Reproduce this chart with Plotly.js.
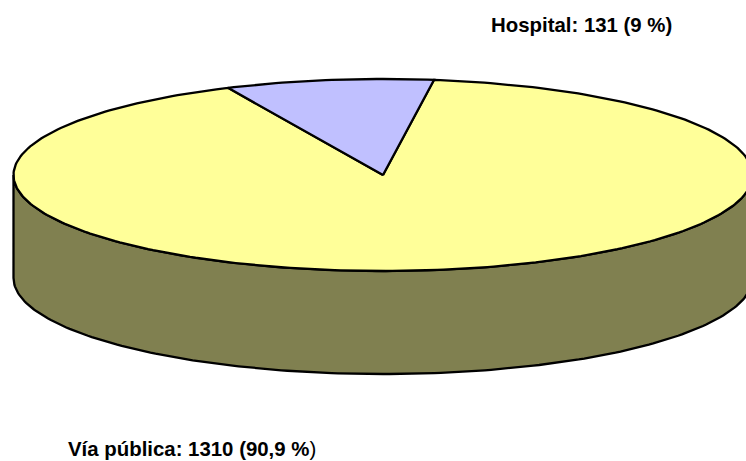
<!DOCTYPE html>
<html>
<head>
<meta charset="utf-8">
<script src="https://cdn.plot.ly/plotly-3.0.1.min.js"></script>
<style>html,body{margin:0;padding:0;background:#fff}#c{width:746px;height:461px}</style>
</head>
<body>
<div id="c"></div>
<script>
const categories = ['Hospital', 'Vía pública'];
const values = [131, 1310];
const sliceColors = ['#C0C0FF', '#FFFF99'];
const wallColor = '#808050';
const labelTexts = ['<b>Hospital: 131 (9 %)</b>', '<b>Vía pública: 1310 (90,9 %</b>)'];

const W = 746, H = 461, CX = 383, CY = 175, RX = 369.5, RY = 96, DEPTH = 103;
const tilt = RY / RX, drop = DEPTH / RX;
const startDeg = -24.8;
const total = values.reduce((a, b) => a + b, 0);

function rim(a0, a1, dz) {
  const xs = [], ys = [], n = Math.max(2, Math.ceil(Math.abs(a1 - a0)));
  for (let i = 0; i <= n; i++) {
    const a = (a0 + (a1 - a0) * i / n) * Math.PI / 180;
    xs.push(Math.sin(a));
    ys.push(Math.cos(a) * tilt - dz);
  }
  return [xs, ys];
}

const traces = [];
const line = {color: '#000', width: 2.3};
const [tx, ty] = rim(90, 270, 0);
const [bx, by] = rim(270, 90, drop);
traces.push({x: tx.concat(bx, [tx[0]]), y: ty.concat(by, [ty[0]]), mode: 'lines', fill: 'toself',
  fillcolor: wallColor, line, hoverinfo: 'skip', showlegend: false});
const angles = values.map(v => v / total * 360);
const starts = [startDeg, startDeg + angles[0]];
[1, 0].forEach(i => {
  const [x, y] = rim(starts[i], starts[i] + angles[i], 0);
  traces.push({x: [0].concat(x, [0]), y: [0].concat(y, [0]), mode: 'lines', fill: 'toself',
    fillcolor: sliceColors[i], line,
    name: categories[i], hoverinfo: 'name', showlegend: false});
});

const font = {family: 'Liberation Sans, Arial, sans-serif', size: 20.4, color: '#000'};
const layout = {
  width: W, height: H, margin: {l: 0, r: 0, t: 0, b: 0},
  paper_bgcolor: '#fff', plot_bgcolor: '#fff', showlegend: false,
  xaxis: {range: [-CX / RX, (W - CX) / RX], visible: false, fixedrange: true},
  yaxis: {range: [(CY - H) / RX, CY / RX], visible: false, fixedrange: true},
  annotations: [
    {xref: 'paper', yref: 'paper', x: 490 / W, y: 1 - 25 / H, xanchor: 'left', yanchor: 'middle',
     text: labelTexts[0], showarrow: false, borderpad: 0, font},
    {xref: 'paper', yref: 'paper', x: 67 / W, y: 1 - 449 / H, xanchor: 'left', yanchor: 'middle',
     text: labelTexts[1], showarrow: false, borderpad: 0, font}
  ]
};
Plotly.newPlot('c', traces, layout, {displayModeBar: false, staticPlot: true});
</script>
</body>
</html>
